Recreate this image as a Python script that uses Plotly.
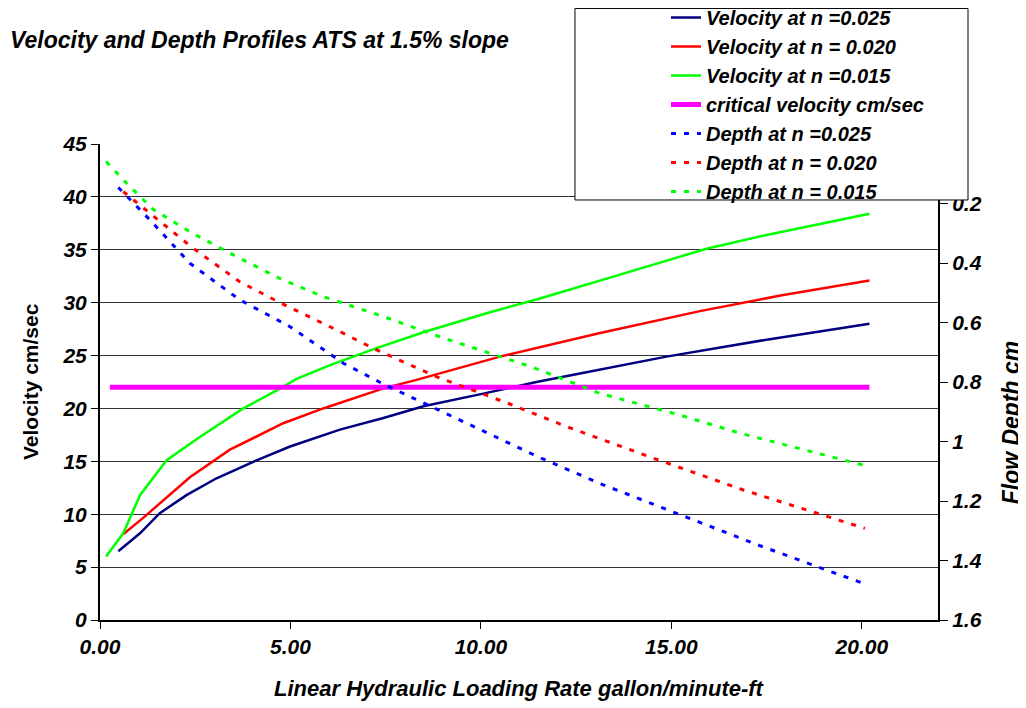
import plotly.graph_objects as go

# Velocity data (x = linear hydraulic loading rate, y = velocity cm/sec)
x_v025 = [0.48, 1.05, 1.57, 2.27, 3.06, 4.11, 4.99, 6.3, 7.44, 8.49, 10.06, 11.46, 12.6, 14.87, 17.5, 20.2]
v_025 = [6.5, 8.2, 10.1, 11.8, 13.4, 15.1, 16.4, 18.0, 19.1, 20.2, 21.4, 22.5, 23.3, 24.9, 26.5, 28.0]

x_v020 = [0.61, 1.18, 2.36, 3.41, 4.81, 5.86, 7.44, 8.31, 10.5, 11.55, 13.1, 15.75, 17.9, 20.2]
v_020 = [8.1, 9.8, 13.5, 16.1, 18.6, 20.0, 21.9, 22.7, 24.9, 25.8, 27.1, 29.2, 30.7, 32.1]

x_v015 = [0.16, 0.61, 1.05, 1.75, 2.62, 3.76, 4.64, 5.16, 6.04, 7.26, 8.57, 10.24, 11.55, 12.69, 14.44, 15.92, 17.5, 20.2]
v_015 = [6.0, 8.2, 11.8, 15.1, 17.3, 20.0, 21.7, 22.8, 24.1, 25.7, 27.3, 29.1, 30.4, 31.6, 33.5, 35.1, 36.4, 38.4]

x_crit = [0.26, 20.2]
v_crit = [22.0, 22.0]

# Depth data (flow depth cm, right axis)
x_d025 = [0.48, 1.31, 2.36, 3.67, 4.99, 6.39, 7.44, 9.36, 10.5, 11.46, 13.12, 15.05, 17.32, 20.08]
d_025 = [0.146, 0.255, 0.401, 0.524, 0.614, 0.737, 0.807, 0.922, 0.989, 1.049, 1.141, 1.238, 1.350, 1.479]

x_d020 = [0.61, 1.49, 2.45, 3.67, 4.72, 6.21, 7.26, 8.83, 10.76, 12.25, 14.7, 16.89, 18.98, 20.08]
d_020 = [0.160, 0.250, 0.351, 0.463, 0.533, 0.625, 0.692, 0.782, 0.874, 0.950, 1.064, 1.163, 1.247, 1.292]

x_d015 = [0.16, 0.70, 1.40, 2.36, 3.41, 4.72, 5.86, 7.44, 8.92, 10.5, 11.37, 13.12, 14.44, 15.22, 16.8, 18.98, 20.12]
d_015 = [0.059, 0.132, 0.220, 0.295, 0.367, 0.452, 0.513, 0.580, 0.648, 0.715, 0.751, 0.838, 0.883, 0.911, 0.972, 1.045, 1.082]

FONT = "Liberation Sans, Arial, sans-serif"

fig = go.Figure()
fig.add_trace(go.Scatter(x=x_v025, y=v_025, mode="lines", name="Velocity at n =0.025",
                         line=dict(color="#000080", width=2.5)))
fig.add_trace(go.Scatter(x=x_v020, y=v_020, mode="lines", name="Velocity at n = 0.020",
                         line=dict(color="#FF0000", width=2.5)))
fig.add_trace(go.Scatter(x=x_v015, y=v_015, mode="lines", name="Velocity at n =0.015",
                         line=dict(color="#00FF00", width=2.5)))
fig.add_trace(go.Scatter(x=x_crit, y=v_crit, mode="lines", name="critical velocity cm/sec",
                         line=dict(color="#FF00FF", width=5)))
fig.add_trace(go.Scatter(x=x_d025, y=d_025, mode="lines", name="Depth at n =0.025", yaxis="y2",
                         line=dict(color="#0000FF", width=3, dash="5px,8px")))
fig.add_trace(go.Scatter(x=x_d020, y=d_020, mode="lines", name="Depth at n = 0.020", yaxis="y2",
                         line=dict(color="#FF0000", width=3, dash="5px,8px")))
fig.add_trace(go.Scatter(x=x_d015, y=d_015, mode="lines", name="Depth at n = 0.015", yaxis="y2",
                         line=dict(color="#00FF00", width=3, dash="5px,8px")))

tickfont = dict(family=FONT, size=21, color="black", weight="bold", style="italic")

fig.update_layout(
    width=1026, height=708,
    margin=dict(l=92, r=96, t=136, b=96, autoexpand=False),
    paper_bgcolor="white", plot_bgcolor="white",
    showlegend=True,
    legend=dict(x=0.6754, y=1.3067, xanchor="left", yanchor="top",
                bgcolor="rgba(0,0,0,0)", borderwidth=0,
                font=dict(family=FONT, size=20, color="black", weight="bold", style="italic"),
                tracegroupgap=0),
    xaxis=dict(range=[0, 22], dtick=5, tick0=0, tickformat=".2f", showgrid=False,
               showline=True, linecolor="black", linewidth=2, ticks="outside",
               ticklen=7, tickcolor="black", tickfont=tickfont, zeroline=False),
    yaxis=dict(range=[0, 45], dtick=5, tick0=0, showgrid=True, gridcolor="#333333", gridwidth=1,
               showline=True, linecolor="black", linewidth=2, ticks="outside",
               ticklen=7, tickcolor="black", tickfont=tickfont, zeroline=False),
    yaxis2=dict(range=[1.6, 0], dtick=0.2, tick0=0, overlaying="y", side="right",
                showgrid=False, showline=True, linecolor="black", linewidth=2,
                ticks="outside", ticklen=8, tickcolor="black", tickfont=tickfont, zeroline=False),
    shapes=[
        dict(type="rect", xref="paper", yref="paper", x0=0.5668, x1=1.0358, y0=0.8824, y1=1.2847,
             fillcolor="white", line=dict(color="black", width=1), layer="above"),
    ],
    annotations=[
        dict(text="Velocity and Depth Profiles ATS at 1.5% slope", xref="paper", yref="paper",
             x=-0.11, y=1.218, xanchor="left", yanchor="middle", showarrow=False,
             font=dict(family=FONT, size=23, color="black", weight="bold", style="italic")),
        dict(text="Velocity cm/sec", xref="paper", yref="paper", x=-0.0835, y=0.5,
             textangle=-90, xanchor="center", yanchor="middle", showarrow=False,
             font=dict(family=FONT, size=21, color="black", weight="bold")),
        dict(text="Flow Depth cm", xref="paper", yref="paper", x=1.0875, y=0.416,
             textangle=-90, xanchor="center", yanchor="middle", showarrow=False,
             font=dict(family=FONT, size=23, color="black", weight="bold", style="italic")),
        dict(text="Linear Hydraulic Loading Rate gallon/minute-ft", xref="paper", yref="paper",
             x=0.5, y=-0.143, xanchor="center", yanchor="middle", showarrow=False,
             font=dict(family=FONT, size=22, color="black", weight="bold", style="italic")),
    ],
)

fig.write_html("out.html")
